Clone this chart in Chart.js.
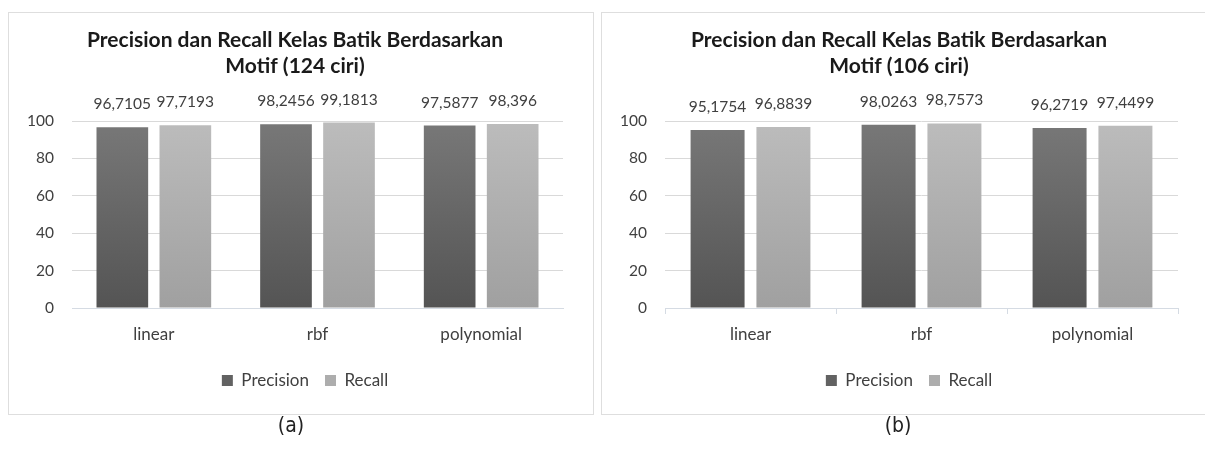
<!DOCTYPE html>
<html>
<head>
<meta charset="utf-8">
<script src="https://cdn.jsdelivr.net/npm/chart.js@4"></script>
<style>
  html, body { margin: 0; padding: 0; background: #fff; }
  body { width: 1205px; height: 451px; overflow: hidden; position: relative; }
  .box { position: absolute; top: 12px; height: 403px; box-sizing: border-box; border: 1px solid #dedede; background: #fff; }
  .box--a { left: 8px; width: 586px; }
  .box--b { left: 601px; width: 608px; }
  .box canvas { display: block; }
  .caption { position: absolute; top: 413px; width: 60px; text-align: center; font-family: "Liberation Sans Narrow", "DejaVu Sans Condensed", sans-serif; font-size: 21px; color: #222; }
</style>
</head>
<body>
  <div class="box box--a"><canvas id="chartA" width="584" height="401"></canvas></div>
  <div class="box box--b"><canvas id="chartB" width="606" height="401"></canvas></div>
  <div class="caption" style="left:261px">(a)</div>
  <div class="caption" style="left:868px">(b)</div>

<script>
  const categories = ["linear", "rbf", "polynomial"];
  const seriesNames = ["Precision", "Recall"];
  const yTicks = [0, 20, 40, 60, 80, 100];

  const titleA = ["Precision dan Recall Kelas Batik Berdasarkan", "Motif (124 ciri)"];
  const precisionA = [96.7105, 98.2456, 97.5877];
  const recallA = [97.7193, 99.1813, 98.396];

  const titleB = ["Precision dan Recall Kelas Batik Berdasarkan", "Motif (106 ciri)"];
  const precisionB = [95.1754, 98.0263, 96.2719];
  const recallB = [96.8839, 98.7573, 97.4499];

  const FONT = "Lato, 'Open Sans', sans-serif";
  const TEXT = "#404040";
  const shades = {
    Precision: { top: "#787878", bottom: "#545454", solid: "#626262" },
    Recall: { top: "#bcbcbc", bottom: "#a0a0a0", solid: "#adadad" }
  };

  function gradientFor(name) {
    return (ctx) => {
      const area = ctx.chart.chartArea;
      const s = shades[name];
      if (!area) return s.solid;
      const g = ctx.chart.ctx.createLinearGradient(0, area.top, 0, area.bottom);
      g.addColorStop(0, s.top);
      g.addColorStop(1, s.bottom);
      return g;
    };
  }

  // value labels above each bar, decimal comma like the source
  const valueLabels = {
    id: "valueLabels",
    afterDatasetsDraw(chart) {
      const c = chart.ctx;
      c.save();
      c.font = "15.5px " + FONT;
      c.fillStyle = TEXT;
      c.textAlign = "center";
      c.textBaseline = "alphabetic";
      chart.data.datasets.forEach((ds, i) => {
        chart.getDatasetMeta(i).data.forEach((bar, j) => {
          c.fillText(String(ds.data[j]).replace(".", ","), bar.x, bar.y - 18);
        });
      });
      c.restore();
    }
  };

  // the source legend sits a little right of the padded centre
  const nudgeLegend = {
    id: "nudgeLegend",
    afterLayout(chart) {
      const lg = chart.legend;
      if (!lg) return;
      lg.left += 10;
      lg.right += 10;
      if (lg.legendHitBoxes) lg.legendHitBoxes.forEach((b) => { b.left += 10; });
    }
  };

  function makeChart(id, title, precision, recall, tickMarks) {
    return new Chart(document.getElementById(id), {
      type: "bar",
      data: {
        labels: categories,
        datasets: [
          { label: seriesNames[0], data: precision, backgroundColor: gradientFor("Precision") },
          { label: seriesNames[1], data: recall, backgroundColor: gradientFor("Recall") }
        ]
      },
      options: {
        responsive: false,
        animation: false,
        devicePixelRatio: 1,
        categoryPercentage: 0.77,
        barPercentage: 0.82,
        layout: { padding: { left: 18, right: 30, top: 0, bottom: 15 } },
        plugins: {
          title: {
            display: true,
            text: title,
            color: "#1a1a1a",
            font: { family: FONT, size: 21, weight: "bold", lineHeight: 1.24 },
            padding: { top: 14, bottom: 42 }
          },
          legend: {
            position: "bottom",
            labels: {
              boxWidth: 11,
              boxHeight: 11,
              padding: 16,
              color: TEXT,
              font: { family: FONT, size: 17 },
              generateLabels(chart) {
                return Chart.defaults.plugins.legend.labels.generateLabels(chart).map((item) => {
                  item.fillStyle = shades[item.text].solid;
                  item.strokeStyle = shades[item.text].solid;
                  item.lineWidth = 0;
                  return item;
                });
              }
            }
          },
          tooltip: { enabled: false }
        },
        scales: {
          x: {
            grid: { display: tickMarks, drawOnChartArea: false, drawTicks: true, tickLength: 6, color: "#d5dbe3" },
            border: { display: true, color: "#d5dbe3", width: 1 },
            ticks: { color: TEXT, font: { family: FONT, size: 17 }, padding: 10 },
            afterFit(scale) { scale.height = 48; }
          },
          y: {
            min: 0,
            max: 100,
            afterBuildTicks(scale) { scale.ticks = yTicks.map((v) => ({ value: v })); },
            grid: { color: "#d9d9d9", drawTicks: false },
            border: { display: false },
            ticks: { color: TEXT, font: { family: FONT, size: 15.5 }, padding: 18 },
            afterFit(scale) { scale.width = 45; }
          }
        }
      },
      plugins: [valueLabels, nudgeLegend]
    });
  }

  makeChart("chartA", titleA, precisionA, recallA, false);
  makeChart("chartB", titleB, precisionB, recallB, true);
</script>
</body>
</html>
